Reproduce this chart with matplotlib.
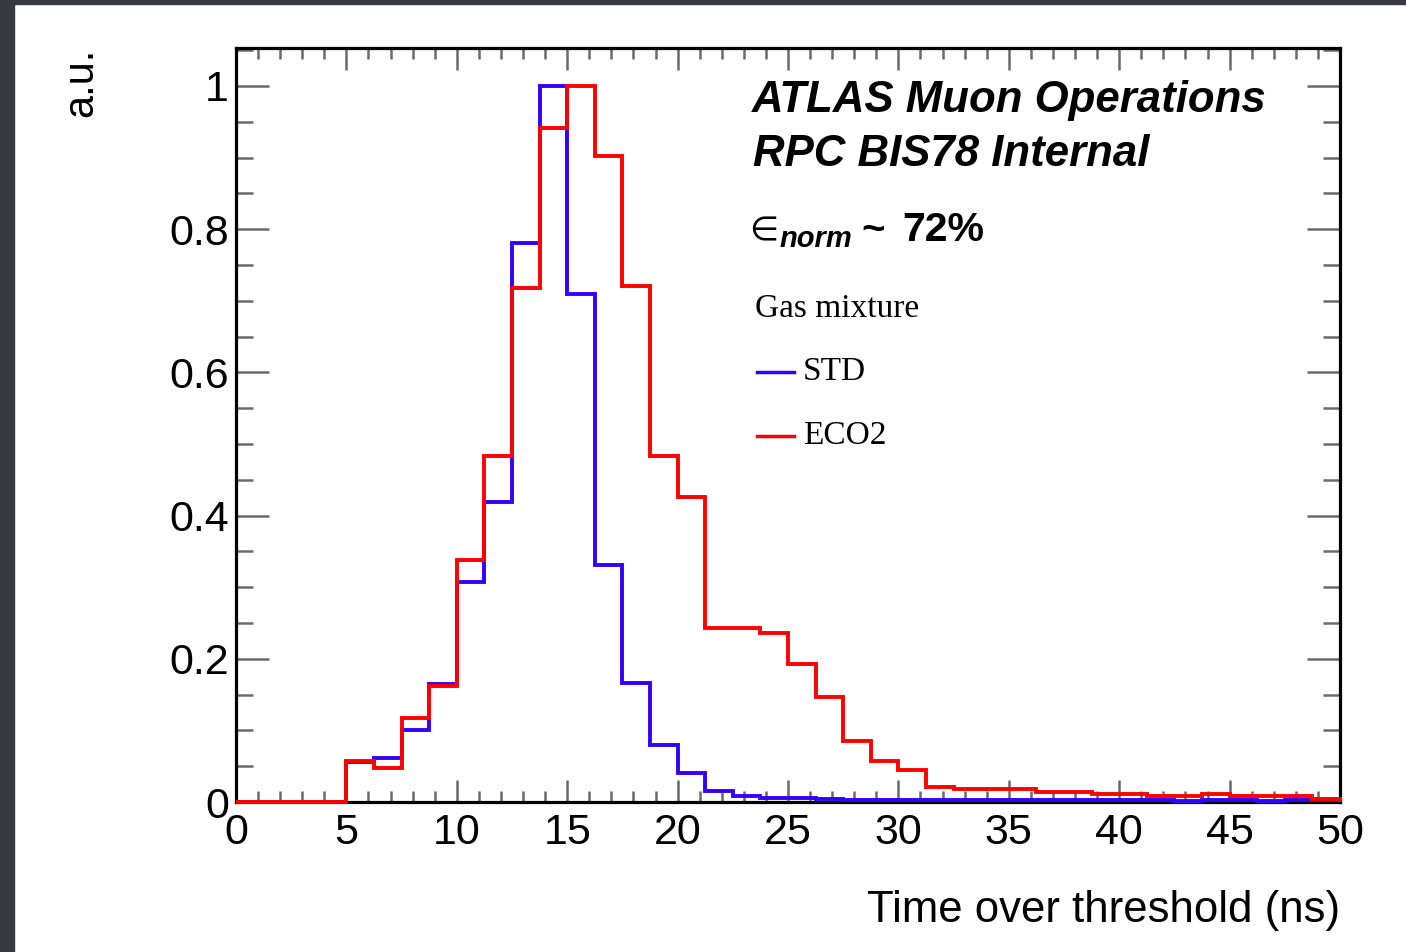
import numpy as np
import matplotlib.pyplot as plt
from matplotlib.lines import Line2D
from matplotlib.patches import Rectangle
from matplotlib.ticker import MultipleLocator, FuncFormatter

plt.rcParams['font.family'] = ['Liberation Sans', 'DejaVu Sans']

# histogram binning (ns)
bin_width = 1.25
n_bins = 40
edges = np.arange(n_bins + 1) * bin_width

# normalised time-over-threshold, STD gas mixture
std = [0, 0, 0, 0, 0.056, 0.061, 0.100, 0.165, 0.307, 0.419,
       0.781, 1.000, 0.710, 0.331, 0.166, 0.080, 0.040, 0.015, 0.008, 0.005,
       0.005, 0.004, 0.003, 0.003, 0.003, 0.003, 0.003, 0.003, 0.003, 0.003,
       0.003, 0.003, 0.003, 0.003, 0.001, 0.003, 0.003, 0.001, 0.003, 0.003]

# normalised time-over-threshold, ECO2 gas mixture
eco2 = [0, 0, 0, 0, 0.057, 0.047, 0.117, 0.162, 0.338, 0.483,
        0.718, 0.941, 1.000, 0.902, 0.721, 0.483, 0.426, 0.243, 0.243, 0.236,
        0.193, 0.147, 0.085, 0.057, 0.044, 0.021, 0.018, 0.018, 0.018, 0.014,
        0.014, 0.011, 0.011, 0.008, 0.008, 0.011, 0.008, 0.008, 0.008, 0.004]

BLUE = '#3300ff'
RED = '#ff0000'

# figure pixel helpers
W, H = 1406, 952
def fx(x):
    return x / W
def fy(y):
    return 1 - y / H

fig = plt.figure(figsize=(W / 100, H / 100), dpi=100)

# dark frame of the screenshot
fig.add_artist(Rectangle((0, 0), fx(14), 1, transform=fig.transFigure,
                         color='#353a40', zorder=0))
fig.add_artist(Rectangle((0, fy(4)), 1, 1 - fy(4), transform=fig.transFigure,
                         color='#353a40', zorder=0))

ax = fig.add_axes([fx(236), fy(802), fx(1340) - fx(236), fy(48) - fy(802)])

ax.stairs(std, edges, color=BLUE, lw=2.8, clip_on=False, zorder=3)
ax.stairs(eco2, edges, color=RED, lw=2.8, clip_on=False, zorder=4)

ax.set_xlim(0, 50)
ax.set_ylim(0, 1.053)

ax.xaxis.set_major_locator(MultipleLocator(5))
ax.xaxis.set_minor_locator(MultipleLocator(1))
ax.yaxis.set_major_locator(MultipleLocator(0.2))
ax.yaxis.set_minor_locator(MultipleLocator(0.05))
ax.yaxis.set_major_formatter(FuncFormatter(lambda v, p: '%g' % round(v, 2)))
ax.xaxis.set_major_formatter(FuncFormatter(lambda v, p: '%g' % v))

ax.tick_params(which='both', direction='in', top=True, right=True,
               color='#6a6a6a', width=1.8, labelsize=31)
ax.tick_params(axis='x', which='major', length=16, pad=8)
ax.tick_params(axis='x', which='minor', length=8)
ax.tick_params(axis='y', which='major', length=24, pad=5)
ax.tick_params(axis='y', which='minor', length=12)

for s in ax.spines.values():
    s.set_linewidth(2.3)
    s.set_color('black')

# axis titles
fig.text(fx(1340), fy(922), 'Time over threshold (ns)', ha='right', va='baseline',
         fontsize=31.5)
fig.text(fx(81), fy(48), 'a.u.', rotation=90, ha='center', va='top', fontsize=30)

# labels
fig.text(fx(752), fy(112), 'ATLAS Muon Operations', fontsize=31.5,
         fontweight='bold', fontstyle='italic', va='baseline')
fig.text(fx(753), fy(166), 'RPC BIS78 Internal', fontsize=31.5,
         fontweight='bold', fontstyle='italic', va='baseline')
fig.text(fx(749), fy(240), '\u2208', fontsize=24, va='baseline',
         family=['DejaVu Sans'])
fig.text(fx(779), fy(247), 'norm', fontsize=21, fontweight='bold',
         fontstyle='italic', va='baseline')
fig.text(fx(861), fy(241), '~', fontsize=29, fontweight='bold', va='baseline')
fig.text(fx(902), fy(241), '72%', fontsize=29.5, fontweight='bold', va='baseline')

# legend
fig.text(fx(755), fy(309), 'Gas mixture', fontsize=24, va='center',
         family=['Liberation Serif'])
leg_items = [('STD', BLUE, 372), ('ECO2', RED, 436)]
for name, col, y in leg_items:
    fig.add_artist(Line2D([fx(757), fx(794)], [fy(y), fy(y)], color=col, lw=2.5,
                          transform=fig.transFigure))
    fig.text(fx(803), fy(y), name, fontsize=24, va='center',
             family=['Liberation Serif'])

fig.savefig('out.png', dpi=100)
